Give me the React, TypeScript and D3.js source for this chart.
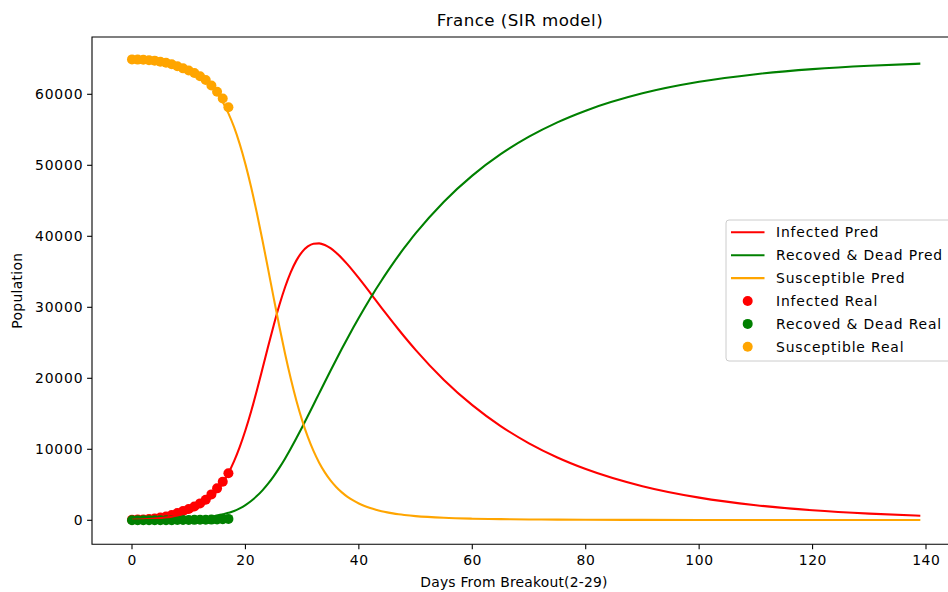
import React from 'react';
import * as d3 from 'd3';

const predDays = [0,1,2,3,4,5,6,7,8,9,10,11,12,13,14,15,16,17,18,19,20,21,22,23,24,25,26,27,28,29,30,31,32,33,34,35,36,37,38,39,40,41,42,43,44,45,46,47,48,49,50,55,60,65,70,75,80,90,100,110,120,130,139];
const predInfected = [80,105,137,179,234,305,398,519,676,879,1143,1486,1925,2488,3207,4113,5244,6640,8328,10339,12681,15335,18247,21330,24465,27518,30355,32862,34960,36609,37805,38572,38954,39003,38775,38321,37689,36919,36047,35101,34105,33077,32031,30976,29931,28895,27874,26871,25891,24935,24004,19770,16220,13270,10845,8853,7224,4804,3193,2122,1410,937,648];
const predRecovered = [10,14,19,25,33,44,58,77,102,134,175,229,299,389,506,656,848,1050,1304,1684,2153,2724,3411,4221,5160,6227,7416,8716,10111,11583,13113,14684,16277,17878,19474,21056,22616,24148,25646,27106,28525,29903,31239,32534,33782,34988,36152,37275,38357,39400,40405,44879,48551,51568,54033,56050,57696,60136,61757,62834,63550,64025,64315];
const predSusceptible = [64910,64881,64844,64796,64733,64651,64544,64404,64222,63987,63682,63285,62776,62123,61287,60231,58908,57310,55368,52977,50166,46941,43342,39449,35375,31255,27229,23422,19929,16808,14082,11744,9769,8119,6751,5623,4695,3933,3307,2793,2370,2020,1730,1490,1287,1117,974,854,752,665,591,351,229,162,122,97,80,60,50,44,40,38,37];

const realDays = [0,1,2,3,4,5,6,7,8,9,10,11,12,13,14,15,16,17];
const realInfected = [70,100,130,190,250,400,540,750,1030,1310,1600,1950,2380,2900,3650,4500,5440,6630];
const realRecovered = [12,12,12,12,12,16,19,23,30,35,45,60,70,90,100,130,160,200];
const realSusceptible = [64918,64888,64858,64798,64738,64584,64441,64227,63940,63655,63355,62990,62550,62010,61250,60370,59400,58170];

const xTicks = [0,20,40,60,80,100,120,140];
const yTicks = [0,10000,20000,30000,40000,50000,60000];

const titleText = 'France (SIR model)';
const xLabel = 'Days From Breakout(2-29)';
const yLabel = 'Population';

const RED = '#ff0000';
const GREEN = '#008000';
const ORANGE = '#ffa500';

const W = 948, H = 592;
const L = 92, R = 948.6, T = 37, B = 544.3;
const FONT = 'DejaVu Sans';

export default function App() {
  const x = d3.scaleLinear().domain([0, 140]).range([132, 926]);
  const y = d3.scaleLinear().domain([0, 60000]).range([520.3, 94.3]);
  const line = (vals: number[]) =>
    d3.line<number>()
      .x((_, i) => x(predDays[i]))
      .y((d) => y(d))
      .curve(d3.curveMonotoneX)(vals) || '';

  const lines = [
    { vals: predInfected, color: RED, label: 'Infected Pred' },
    { vals: predRecovered, color: GREEN, label: 'Recoved & Dead Pred' },
    { vals: predSusceptible, color: ORANGE, label: 'Susceptible Pred' },
  ];
  const scatters = [
    { vals: realInfected, color: RED, label: 'Infected Real' },
    { vals: realRecovered, color: GREEN, label: 'Recoved & Dead Real' },
    { vals: realSusceptible, color: ORANGE, label: 'Susceptible Real' },
  ];

  const legX = 726, legY = 220, legH = 141;
  const rowY = (i: number) => 232.3 + i * 22.9;

  return (
    <svg width={W} height={H} style={{ position: 'absolute', left: 0, top: 0, background: '#fff' }} fontFamily={FONT}>
      <rect x={0} y={0} width={W} height={H} fill="#fff" />
      <defs>
        <clipPath id="plot">
          <rect x={L} y={T} width={R - L} height={B - T} />
        </clipPath>
      </defs>
      <g clipPath="url(#plot)">
        {scatters.map((s) => (
          <g key={s.label}>
            {s.vals.map((v, i) => (
              <circle key={i} cx={x(realDays[i])} cy={y(v)} r={5} fill={s.color} />
            ))}
          </g>
        ))}
        {lines.map((l) => (
          <path key={l.label} d={line(l.vals)} fill="none" stroke={l.color} strokeWidth={2.08} />
        ))}
      </g>
      <path d={`M${L},${T} L${L},${B} L${R},${B} L${R},${T} Z`} fill="none" stroke="#000" strokeWidth={1.1} />
      {xTicks.map((t) => (
        <g key={t}>
          <line x1={x(t)} x2={x(t)} y1={B} y2={B + 4.9} stroke="#000" strokeWidth={1.1} />
          <text x={x(t) + 0.3} y={B + 20.5} fontSize={13.9} letterSpacing={0.6} textAnchor="middle" fill="#000">{t}</text>
        </g>
      ))}
      {yTicks.map((t) => (
        <g key={t}>
          <line x1={L - 4.9} x2={L} y1={y(t)} y2={y(t)} stroke="#000" strokeWidth={1.1} />
          <text x={L - 8.7} y={y(t) + 5} fontSize={13.9} letterSpacing={0.8} textAnchor="end" fill="#000">{t}</text>
        </g>
      ))}
      <text x={514} y={587} fontSize={13.9} letterSpacing={0.2} textAnchor="middle" fill="#000">{xLabel}</text>
      <text transform={`translate(22,${(T + B) / 2}) rotate(-90)`} fontSize={13.9} letterSpacing={0.3} textAnchor="middle" fill="#000">{yLabel}</text>
      <text x={520} y={26} fontSize={16.7} letterSpacing={0.45} textAnchor="middle" fill="#000">{titleText}</text>
      <rect x={legX} y={legY} width={260} height={legH} rx={3} fill="#fff" fillOpacity={0.8} stroke="#cccccc" strokeWidth={1} />
      {lines.map((l, i) => (
        <g key={l.label}>
          <line x1={731} x2={764.5} y1={rowY(i)} y2={rowY(i)} stroke={l.color} strokeWidth={2.08} />
          <text x={776} y={rowY(i) + 5} fontSize={13.9} letterSpacing={0.85} fill="#000">{l.label}</text>
        </g>
      ))}
      {scatters.map((s, j) => (
        <g key={s.label}>
          <circle cx={747.7} cy={rowY(j + 3)} r={5} fill={s.color} />
          <text x={776} y={rowY(j + 3) + 5} fontSize={13.9} letterSpacing={0.85} fill="#000">{s.label}</text>
        </g>
      ))}
    </svg>
  );
}
